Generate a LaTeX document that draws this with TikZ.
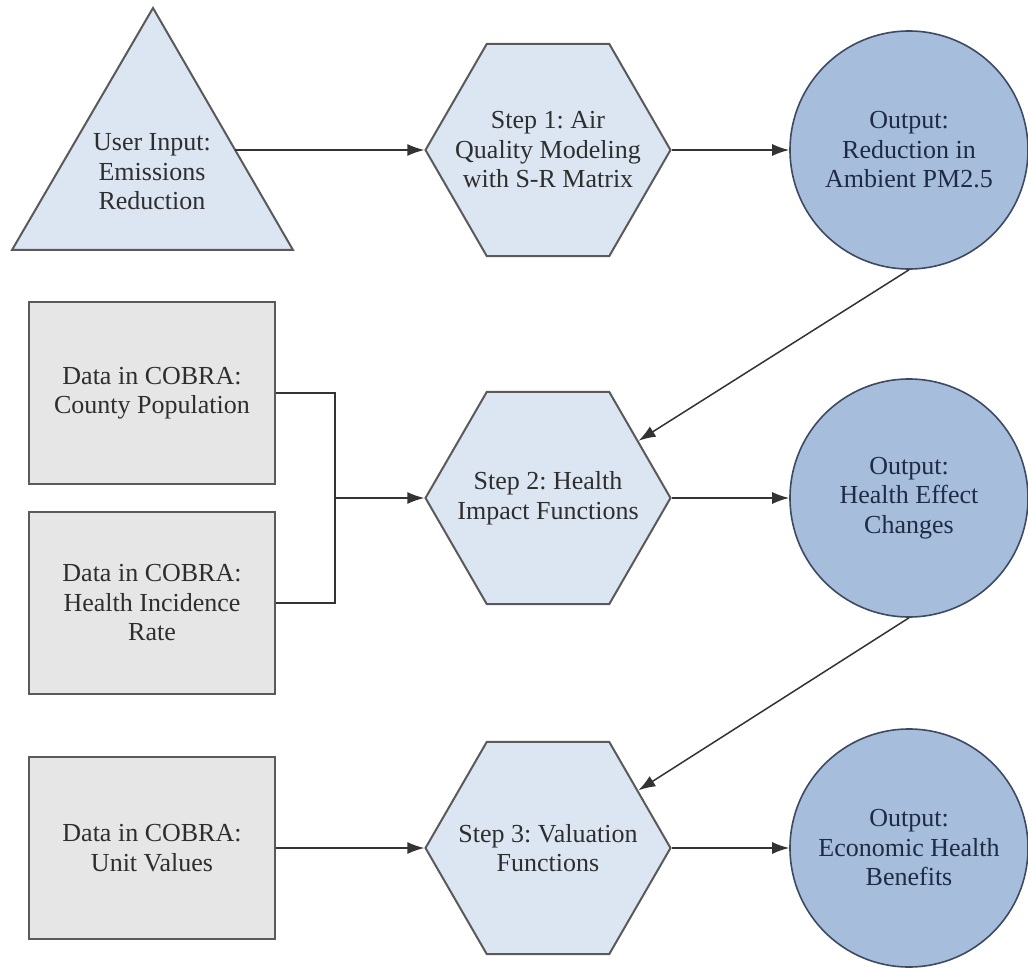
\documentclass[tikz,border=0pt]{standalone}
\usepackage{fontspec}
\setmainfont{Liberation Serif}
\newfontfamily\tnrfont{Liberation Serif}
\frenchspacing
\usetikzlibrary{shapes.geometric,arrows.meta}
\definecolor{lightblue}{HTML}{DCE6F2}
\definecolor{boxgray}{HTML}{E6E6E6}
\definecolor{outblue}{HTML}{A6BDDB}
\definecolor{edgegray}{HTML}{5A5A5A}
\definecolor{circedge}{HTML}{3E4A62}
\definecolor{txtgray}{HTML}{2E2E2E}
\definecolor{txtnavy}{HTML}{1E2B45}
\definecolor{linegray}{HTML}{333333}
\tikzset{
  base/.style={font={\tnrfont\fontsize{26}{29.5}\selectfont}, align=center, text=txtgray, inner sep=0pt},
  hexa/.style={regular polygon, regular polygon sides=6, minimum size=245pt, inner sep=0pt,
    fill=lightblue, draw=edgegray, line width=2pt},
  databox/.style={base, rectangle, minimum width=246pt, minimum height=182pt,
    fill=boxgray, draw=edgegray, line width=2pt},
  outcirc/.style={base, circle, minimum size=238pt, fill=outblue, draw=circedge,
    line width=1.6pt, text=txtnavy},
  arr/.style={draw=linegray, line width=1.5pt, -{Latex[length=17pt,width=12pt]}},
  conn/.style={draw=linegray, line width=1.5pt},
}
\begin{document}
\begin{tikzpicture}[x=1pt,y=-1pt]
\useasboundingbox (0,0) rectangle (1028,968);
\fill[white] (0,0) rectangle (1028,968);

% triangle
\draw[fill=lightblue, draw=edgegray, line width=2pt, line join=miter]
  (153,8) -- (293,250) -- (12,250) -- cycle;
\node[base] (tri) at (152,172) {User Input:\\Emissions\\Reduction};
\coordinate (triR) at (235,150);

% hexagons
\node[hexa] (h1) at (548,150) {};
\node[hexa] (h2) at (548,498) {};
\node[hexa] (h3) at (548,848) {};
\node[base] (h1t) at (h1.center) {Step 1: Air\\Quality Modeling\\with S-R Matrix};
\node[base] (h2t) at (h2.center) {Step 2: Health\\Impact Functions};
\node[base] (h3t) at (h3.center) {Step 3: Valuation\\Functions};

% output circles
\node[outcirc] (c1) at (909,150) {Output:\\Reduction in\\Ambient PM2.5};
\node[outcirc] (c2) at (909,498) {Output:\\Health Effect\\Changes};
\node[outcirc] (c3) at (909,848) {Output:\\Economic Health\\Benefits};

% data boxes
\node[databox] (b1) at (152,393) {Data in COBRA:\\County Population};
\node[databox] (b2) at (152,603) {Data in COBRA:\\Health Incidence\\Rate};
\node[databox] (b3) at (152,848) {Data in COBRA:\\Unit Values};

\coordinate (j) at (335,498);

% connectors
\draw[arr] (triR) -- (h1.west);
\draw[arr] (h1.east) -- (c1.west);
\draw[arr] (c1.south) -- (h2);
\draw[conn] (b1.east) -| (j) |- (b2.east);
\draw[arr] (j) -- (h2.west);
\draw[arr] (h2.east) -- (c2.west);
\draw[arr] (c2.south) -- (h3);
\draw[arr] (b3.east) -- (h3.west);
\draw[arr] (h3.east) -- (c3.west);
\end{tikzpicture}
\end{document}
